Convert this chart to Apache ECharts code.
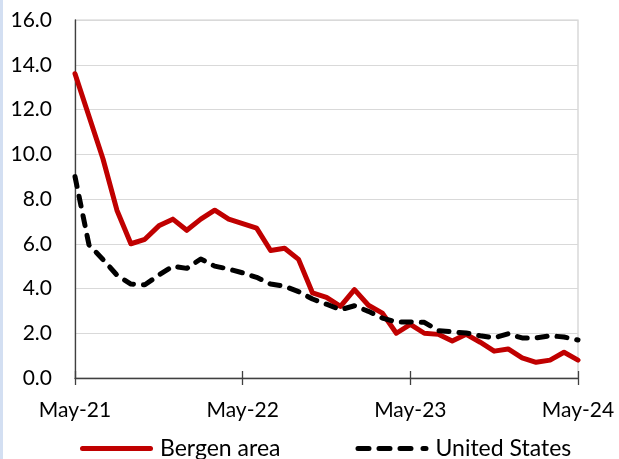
<!DOCTYPE html>
<html>
<head>
<meta charset="utf-8">
<script src="https://cdn.jsdelivr.net/npm/echarts@6/dist/echarts.min.js"></script>
<style>
html,body{margin:0;padding:0;background:#fff;}
#chart{width:619px;height:459px;}
</style>
</head>
<body>
<div id="chart"></div>
<script>
const months = ['May','Jun','Jul','Aug','Sep','Oct','Nov','Dec','Jan','Feb','Mar','Apr'];
const categories = [];
for (let y = 21; y <= 24; y++) {
  for (let m = 0; m < 12; m++) {
    const yr = m >= 8 ? y + 1 : y;
    if (categories.length < 37) categories.push(months[m] + '-' + yr);
  }
}
const bergen = [13.6, 11.7, 9.8, 7.5, 6.0, 6.2, 6.8, 7.1, 6.6, 7.1, 7.5, 7.1, 6.9,
  6.7, 5.7, 5.8, 5.3, 3.8, 3.6, 3.2, 3.95, 3.25, 2.9, 2.0, 2.4,
  2.0, 1.95, 1.65, 1.95, 1.6, 1.2, 1.3, 0.9, 0.7, 0.8, 1.15, 0.8];
const unitedStates = [9.0, 5.95, 5.3, 4.6, 4.2, 4.17, 4.6, 5.0, 4.9, 5.32, 5.0, 4.87, 4.7,
  4.5, 4.2, 4.1, 3.86, 3.53, 3.3, 3.05, 3.23, 2.98, 2.68, 2.5, 2.5,
  2.49, 2.12, 2.06, 2.01, 1.89, 1.79, 1.98, 1.79, 1.79, 1.89, 1.83, 1.7];
const yTicks = { min: 0, max: 16, interval: 2 };
const seriesNames = ['Bergen area', 'United States'];

const font = 'Lato';
// legend icons (filled paths, stretched to itemWidth x itemHeight)
const solidIcon = 'path://M2.5,0 L70.5,0 A2.5,2.5 0 0 1 70.5,5 L2.5,5 A2.5,2.5 0 0 1 2.5,0 Z';
const dashIcon = 'path://M2.5,0 L13.5,0 A2.5,2.5 0 0 1 13.5,5 L2.5,5 A2.5,2.5 0 0 1 2.5,0 Z ' +
  'M23.5,0 L34.5,0 A2.5,2.5 0 0 1 34.5,5 L23.5,5 A2.5,2.5 0 0 1 23.5,0 Z ' +
  'M44.5,0 L55.5,0 A2.5,2.5 0 0 1 55.5,5 L44.5,5 A2.5,2.5 0 0 1 44.5,0 Z ' +
  'M67.5,0 L70.5,0 A2.5,2.5 0 0 1 70.5,5 L67.5,5 A2.5,2.5 0 0 1 67.5,0 Z';

const chart = echarts.init(document.getElementById('chart'), null, { renderer: 'canvas' });
chart.setOption({
  animation: false,
  backgroundColor: '#fff',
  textStyle: { fontFamily: font },
  graphic: [{
    type: 'rect', left: 0, top: 0, shape: { width: 3, height: 459 },
    style: { fill: '#D3DFF2' }, silent: true
  }],
  grid: {
    left: 75, right: 41, top: 20, bottom: 81,
    show: true, borderColor: '#CFCFCF', borderWidth: 1.2, containLabel: false
  },
  legend: {
    left: 80, top: 437, padding: 0,
    itemWidth: 73, itemHeight: 5, itemGap: 75,
    textStyle: { fontFamily: font, fontSize: 23, color: '#000', padding: [0, 0, 0, 2] },
    data: [
      { name: seriesNames[0], icon: solidIcon, itemStyle: { color: '#C00000' } },
      { name: seriesNames[1], icon: dashIcon, itemStyle: { color: '#000' } }
    ]
  },
  xAxis: [{
    type: 'category', data: categories, boundaryGap: false,
    axisLine: { show: true, lineStyle: { color: '#404040', width: 1.3 } },
    axisTick: { show: true, interval: 11, length: 7, lineStyle: { color: '#404040', width: 1.3 } },
    axisLabel: { interval: 11, margin: 22, fontFamily: font, fontSize: 21, color: '#000' },
    splitLine: { show: false }
  }, {
    type: 'category', data: categories, boundaryGap: false, position: 'bottom', offset: 0,
    axisLine: { show: false },
    axisTick: { show: true, inside: true, interval: 11, length: 7, lineStyle: { color: '#404040', width: 1.3 } },
    axisLabel: { show: false },
    splitLine: { show: false }
  }],
  yAxis: {
    type: 'value', min: yTicks.min, max: yTicks.max, interval: yTicks.interval,
    axisLine: { show: true, lineStyle: { color: '#404040', width: 1.3 } },
    axisTick: { show: false },
    axisLabel: { margin: 23, fontFamily: font, fontSize: 21, color: '#000',
      formatter: v => v.toFixed(1) },
    splitLine: { show: true, lineStyle: { color: '#D9D9D9', width: 1.2 } }
  },
  series: [{
    name: seriesNames[0], type: 'line', data: bergen, symbol: 'none',
    lineStyle: { color: '#C00000', width: 5, join: 'round', cap: 'round' },
    itemStyle: { color: '#C00000' }
  }, {
    name: seriesNames[1], type: 'line', data: unitedStates, symbol: 'none',
    lineStyle: { color: '#000', width: 5, type: [10, 10], cap: 'round', join: 'round' },
    itemStyle: { color: '#000' }
  }]
});
</script>
</body>
</html>
